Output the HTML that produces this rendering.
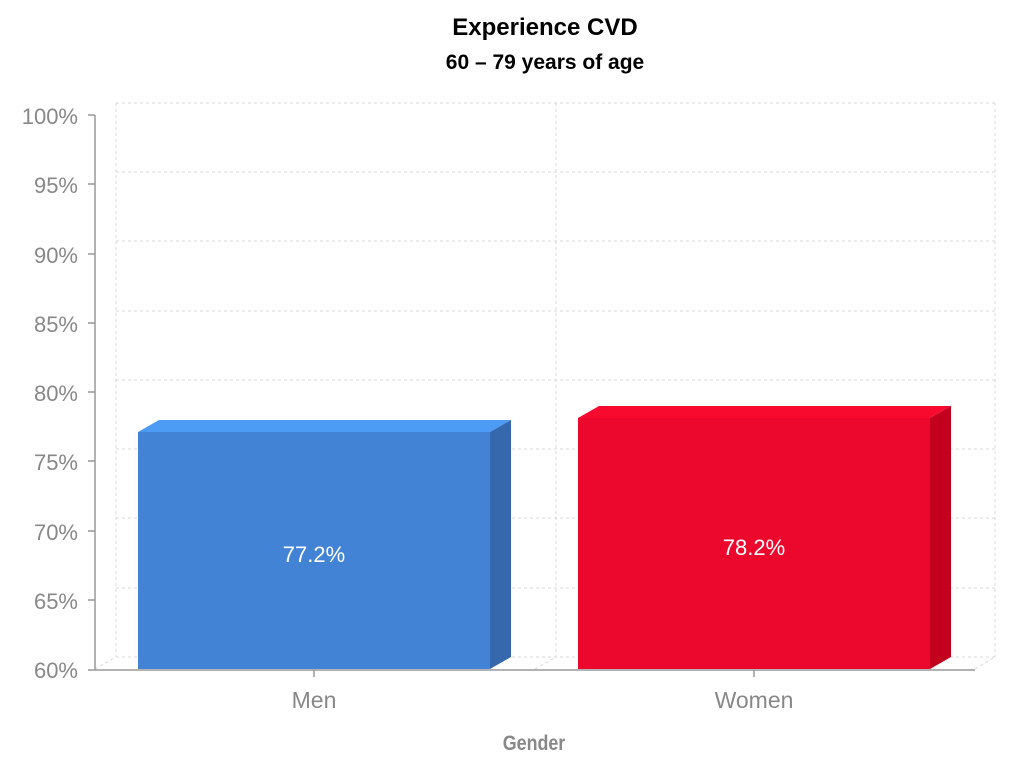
<!DOCTYPE html>
<html><head><style>body{margin:0;background:#fff}</style></head><body>
<svg width="1024" height="768" xmlns="http://www.w3.org/2000/svg" font-family="Liberation Sans, sans-serif">
<text x="545" y="35" text-anchor="middle" font-size="24" font-weight="bold">Experience CVD</text>
<text x="545" y="69" text-anchor="middle" font-size="21" font-weight="bold">60 – 79 years of age</text>
<g stroke="#d8d8d8" stroke-dasharray="3,3" fill="none">
<line x1="116" y1="103" x2="995" y2="103"/><line x1="116" y1="172" x2="995" y2="172"/>
<line x1="116" y1="241" x2="995" y2="241"/><line x1="116" y1="311" x2="995" y2="311"/>
<line x1="116" y1="380" x2="995" y2="380"/><line x1="116" y1="449" x2="995" y2="449"/>
<line x1="116" y1="518" x2="995" y2="518"/><line x1="116" y1="588" x2="995" y2="588"/>
<line x1="116" y1="657" x2="995" y2="657"/>
<line x1="116" y1="103" x2="116" y2="657"/><line x1="556" y1="103" x2="556" y2="657"/><line x1="995" y1="103" x2="995" y2="657"/>
<line x1="95" y1="669" x2="116" y2="657"/><line x1="535" y1="669" x2="556" y2="657"/><line x1="975" y1="669" x2="995" y2="657"/>
</g>
<g stroke="#999" stroke-width="1.5">
<line x1="95" y1="115" x2="95" y2="670"/><line x1="88" y1="670" x2="975" y2="670"/>
<line x1="88" y1="115" x2="95" y2="115"/><line x1="88" y1="184" x2="95" y2="184"/><line x1="88" y1="254" x2="95" y2="254"/><line x1="88" y1="323" x2="95" y2="323"/><line x1="88" y1="392" x2="95" y2="392"/><line x1="88" y1="461" x2="95" y2="461"/><line x1="88" y1="531" x2="95" y2="531"/><line x1="88" y1="600" x2="95" y2="600"/>
<line x1="314" y1="670" x2="314" y2="677"/><line x1="754" y1="670" x2="754" y2="677"/>
</g>
<g fill="#888" font-size="22" text-anchor="end">
<text x="78" y="124">100%</text><text x="78" y="193">95%</text><text x="78" y="263">90%</text><text x="78" y="332">85%</text><text x="78" y="401">80%</text><text x="78" y="470">75%</text><text x="78" y="540">70%</text><text x="78" y="609">65%</text><text x="78" y="678">60%</text>
</g>
<polygon points="138,432 159,420 511,420 490,432" fill="#4c9bf5"/>
<polygon points="490,432 511,420 511,657 490,669" fill="#3668ad"/>
<rect x="138" y="432" width="352" height="237" fill="#4283d6"/>
<polygon points="578,418 599,406 951,406 930,418" fill="#f80a2e"/>
<polygon points="930,418 951,406 951,657 930,669" fill="#c4001f"/>
<rect x="578" y="418" width="352" height="251" fill="#ec082d"/>
<text x="314" y="562" text-anchor="middle" fill="#fff" font-size="22">77.2%</text>
<text x="754" y="555" text-anchor="middle" fill="#fff" font-size="22">78.2%</text>
<text x="314" y="708" text-anchor="middle" fill="#888" font-size="23">Men</text>
<text x="754" y="708" text-anchor="middle" fill="#888" font-size="23">Women</text>
<text x="534" y="750" text-anchor="middle" fill="#888" font-size="21" font-weight="bold" transform="translate(534 0) scale(0.85 1) translate(-534 0)">Gender</text>
</svg>
</body></html>
